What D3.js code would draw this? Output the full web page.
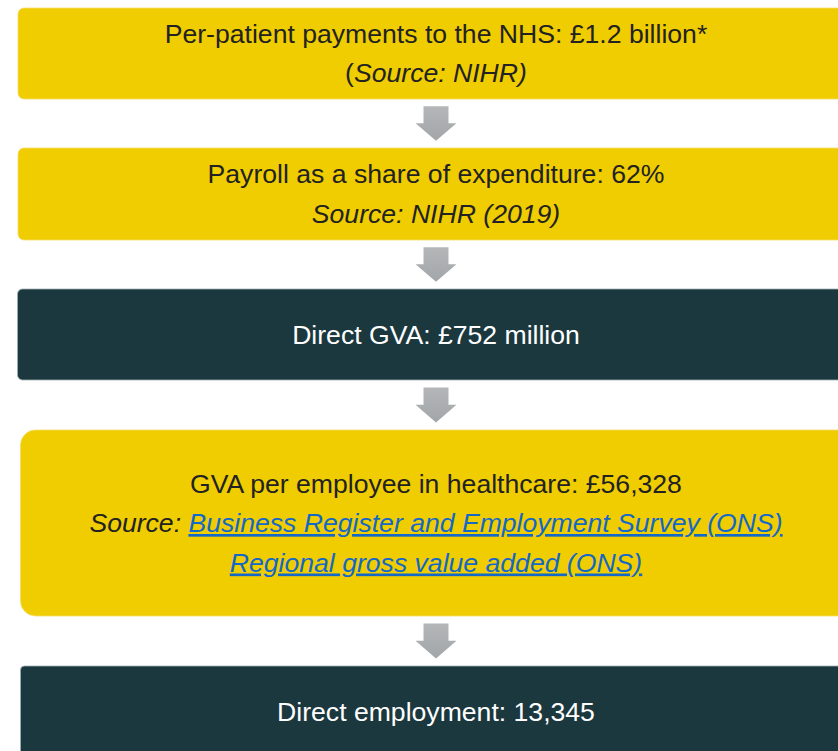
<!DOCTYPE html>
<html>
<head>
<meta charset="utf-8">
<script src="https://cdn.jsdelivr.net/npm/d3@7"></script>
<style>
  html, body { margin: 0; padding: 0; background: #ffffff; }
  svg { display: block; }
</style>
</head>
<body>
<svg id="chart" width="838" height="751"></svg>
<script>
// ---- data ----
const stepTitles = [
  "Per-patient payments to the NHS: £1.2 billion*",
  "Payroll as a share of expenditure: 62%",
  "Direct GVA: £752 million",
  "GVA per employee in healthcare: £56,328",
  "Direct employment: 13,345"
];
const stepKinds = ["input", "input", "result", "input", "result"];
// source lines per step: each line is a list of [text, style] segments
const stepSources = [
  [[["(", "plain"], ["Source: NIHR)", "italic"]]],
  [[["Source: NIHR (2019)", "italic"]]],
  [],
  [
    [["Source: ", "italic"], ["Business Register and Employment Survey (ONS)", "link"]],
    [["Regional gross value added (ONS)", "link"]]
  ],
  []
];

// ---- layout ----
const W = 838, H = 751;
const boxTop = [8, 148, 289, 430, 666];
const boxBottom = [99, 240, 380, 616, 757];
const boxLeft = [18, 18, 17.5, 20.5, 20.5];
const boxRadius = [6, 6, 5, 15, 4];
const cx = 436;
const lineGap = 39.5;
const fontSize = 26.6;

const colors = {
  input: "#F0CD00",
  result: "#1B383F",
  textDark: "#222222",
  textLight: "#FFFFFF",
  link: "#1368C8",
  arrow: "#AAADAF"
};

const svg = d3.select("#chart");
const defs = svg.append("defs");
const grad = defs.append("linearGradient").attr("id", "arrowGrad")
  .attr("x1", 0).attr("y1", 0).attr("x2", 0).attr("y2", 1);
grad.append("stop").attr("offset", "0%").attr("stop-color", "#B4B6B8");
grad.append("stop").attr("offset", "100%").attr("stop-color", "#A3A6A8");

const steps = stepTitles.map((t, i) => ({
  title: t, kind: stepKinds[i], sources: stepSources[i],
  top: boxTop[i], bottom: boxBottom[i], left: boxLeft[i], r: boxRadius[i]
}));

const g = svg.selectAll("g.step").data(steps).join("g").attr("class", "step");

g.append("rect")
  .attr("x", d => d.left)
  .attr("y", d => d.top)
  .attr("width", d => W + 20 - d.left)
  .attr("height", d => d.bottom - d.top)
  .attr("rx", d => d.r).attr("ry", d => d.r)
  .attr("fill", d => colors[d.kind])
  .attr("stroke", d => d.kind === "result" ? "#9FB0B4" : "#F4DC6A")
  .attr("stroke-width", 0.8);

g.each(function (d) {
  const sel = d3.select(this);
  const lines = [[[d.title, "plain"]]].concat(d.sources);
  const n = lines.length;
  const center = (d.top + d.bottom) / 2;
  lines.forEach((segs, li) => {
    const y = center + 9 + (li - (n - 1) / 2) * lineGap;
    const txt = sel.append("text")
      .attr("x", cx)
      .attr("y", y)
      .attr("text-anchor", "middle")
      .attr("font-family", "'Liberation Sans', Arial, sans-serif")
      .attr("font-size", fontSize);
    segs.forEach(([s, style]) => {
      const ts = txt.append("tspan").text(s)
        .attr("fill", d.kind === "result" ? colors.textLight : (style === "link" ? colors.link : colors.textDark));
      if (style === "italic" || style === "link") ts.attr("font-style", "italic");
      if (style === "link") ts.attr("text-decoration", "underline");
    });
  });
});

// ---- arrows between steps ----
const arrows = d3.range(steps.length - 1).map(i => ({ from: boxBottom[i], to: boxTop[i + 1] }));
const shaftHalf = 12.5, headHalf = 20.5;
svg.selectAll("path.arrow").data(arrows).join("path")
  .attr("class", "arrow")
  .attr("d", a => {
    const gap = a.to - a.from;
    const y0 = a.from + gap * 0.15;
    const tip = a.to - gap * 0.15;
    const yh = y0 + (tip - y0) * 0.49;
    const p = d3.path();
    p.moveTo(cx - shaftHalf, y0);
    p.lineTo(cx + shaftHalf, y0);
    p.lineTo(cx + shaftHalf, yh);
    p.lineTo(cx + headHalf, yh);
    p.lineTo(cx, tip);
    p.lineTo(cx - headHalf, yh);
    p.lineTo(cx - shaftHalf, yh);
    p.closePath();
    return p.toString();
  })
  .attr("fill", "url(#arrowGrad)");
</script>
</body>
</html>
